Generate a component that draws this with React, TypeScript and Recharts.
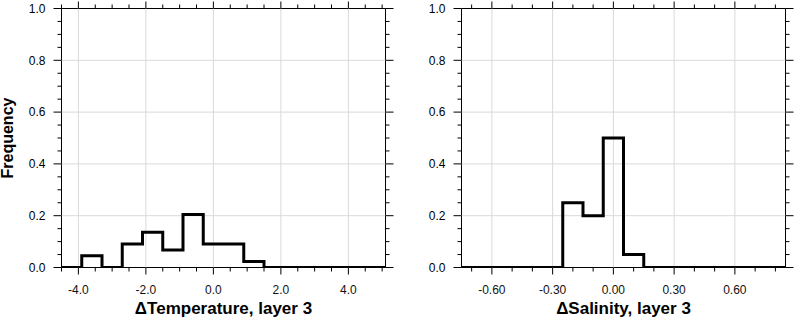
import React from "react";
import { LineChart, Line, XAxis, YAxis, ReferenceLine, ReferenceArea } from "recharts";

// ---------- data ----------
const tempBinEdges = [-4.5, -3.9, -3.3, -2.7, -2.1, -1.5, -0.9, -0.3, 0.3, 0.9, 1.5, 2.1, 2.7, 3.3, 3.9, 4.5, 5.1];
const tempFreq = [0, 0.045, 0, 0.091, 0.136, 0.068, 0.205, 0.091, 0.091, 0.023, 0, 0, 0, 0, 0, 0];

const salBinEdges = [-0.75, -0.65, -0.55, -0.45, -0.35, -0.25, -0.15, -0.05, 0.05, 0.15, 0.25, 0.35, 0.45, 0.55, 0.65, 0.75, 0.85];
const salFreq = [0, 0, 0, 0, 0, 0.25, 0.2, 0.5, 0.05, 0, 0, 0, 0, 0, 0, 0];

const tempMajorX = [-4, -2, 0, 2, 4];
const tempMajorXLabels = ["-4.0", "-2.0", "0.0", "2.0", "4.0"];
const tempAllX = [-4.5, -4, -3.5, -3, -2.5, -2, -1.5, -1, -0.5, 0, 0.5, 1, 1.5, 2, 2.5, 3, 3.5, 4, 4.5, 5];

const salMajorX = [-0.6, -0.3, 0, 0.3, 0.6];
const salMajorXLabels = ["-0.60", "-0.30", "0.00", "0.30", "0.60"];
const salAllX = [-0.7, -0.6, -0.5, -0.4, -0.3, -0.2, -0.1, 0, 0.1, 0.2, 0.3, 0.4, 0.5, 0.6, 0.7, 0.8];

const yMajor = [0, 0.2, 0.4, 0.6, 0.8, 1.0];
const yMajorLabels = ["0.0", "0.2", "0.4", "0.6", "0.8", "1.0"];
const yAll = [0, 0.05, 0.1, 0.15, 0.2, 0.25, 0.3, 0.35, 0.4, 0.45, 0.5, 0.55, 0.6, 0.65, 0.7, 0.75, 0.8, 0.85, 0.9, 0.95, 1.0];
const yGrid = [0.2, 0.4, 0.6, 0.8];

const tempTitle = "ΔTemperature, layer 3";
const salTitle = "ΔSalinity, layer 3";
const yTitle = "Frequency";

// ---------- layout ----------
const FONT = "'Liberation Sans', Arial, Helvetica, sans-serif";
const CH_W = 400;
const CH_H = 321;
const PLOT_LEFT = 61.5;
const PLOT_RIGHT = 385.5;
const PLOT_TOP = 8.5;
const PLOT_BOTTOM = 267.5;
const MAJOR_LEN = 7;
const MINOR_LEN = 4;
const GRID = "#d9d9d9";
const MARGIN = { top: PLOT_TOP, left: PLOT_LEFT - 40, right: CH_W - PLOT_RIGHT, bottom: CH_H - PLOT_BOTTOM - 30 };

function stepData(edges: number[], freq: number[]) {
  const pts = freq.map((f, i) => ({ x: edges[i], f }));
  pts.push({ x: edges[edges.length - 1], f: freq[freq.length - 1] });
  return pts;
}

const findIdx = (arr: number[], v: number) => arr.findIndex((m) => Math.abs(m - v) < 1e-6);

function makeXTick(majors: number[]) {
  return (props: any) => {
    const { x, payload } = props;
    const idx = findIdx(majors, payload.value);
    const len = idx >= 0 ? MAJOR_LEN : MINOR_LEN;
    return (
      <g>
        <line x1={x} x2={x} y1={PLOT_BOTTOM} y2={PLOT_BOTTOM + len} stroke="#000" strokeWidth={1} />
        <line x1={x} x2={x} y1={PLOT_TOP} y2={PLOT_TOP - len} stroke="#000" strokeWidth={1} />
      </g>
    );
  };
}

function makeXLabelTick(majors: number[], labels: string[]) {
  return (props: any) => {
    const { x, payload } = props;
    const idx = findIdx(majors, payload.value);
    if (idx < 0) return <g />;
    return (
      <g>
        <text x={x} y={294} textAnchor="middle" fontFamily={FONT} fontSize={12} fill="#111">
          {labels[idx]}
        </text>
      </g>
    );
  };
}

function makeYTick(majors: number[], labels: string[]) {
  return (props: any) => {
    const { y, payload } = props;
    const idx = findIdx(majors, payload.value);
    const len = idx >= 0 ? MAJOR_LEN + 1 : MINOR_LEN;
    return (
      <g>
        <line x1={PLOT_LEFT - len} x2={PLOT_LEFT} y1={y} y2={y} stroke="#000" strokeWidth={1} />
        <line x1={PLOT_RIGHT} x2={PLOT_RIGHT + len} y1={y} y2={y} stroke="#000" strokeWidth={1} />
        {idx >= 0 ? (
          <text x={PLOT_LEFT - 16} y={y + 4.3} textAnchor="end" fontFamily={FONT} fontSize={12} fill="#000">
            {labels[idx]}
          </text>
        ) : null}
      </g>
    );
  };
}

type PanelProps = {
  edges: number[];
  freq: number[];
  majorX: number[];
  majorXLabels: string[];
  allX: number[];
};

function Panel({ edges, freq, majorX, allX }: PanelProps) {
  const data = stepData(edges, freq);
  const x0 = edges[0];
  const x1 = edges[edges.length - 1];
  return (
    <LineChart width={CH_W} height={CH_H} data={data} margin={MARGIN}>
      <XAxis dataKey="x" type="number" domain={[x0, x1]} ticks={allX} interval={0} allowDataOverflow tick={makeXTick(majorX)} tickLine={false} axisLine={false} height={30} />
      <YAxis type="number" domain={[0, 1]} ticks={yAll} interval={0} allowDataOverflow tick={makeYTick(yMajor, yMajorLabels)} tickLine={false} axisLine={false} width={40} />
      {yGrid.map((v) => (
        <ReferenceLine key={"gy" + v} y={v} stroke={GRID} strokeWidth={1} />
      ))}
      {majorX.map((v) => (
        <ReferenceLine key={"gx" + v} x={v} stroke={GRID} strokeWidth={1} />
      ))}
      <ReferenceArea x1={x0} x2={x1} y1={0} y2={1} fill="none" fillOpacity={0} stroke="#000" strokeWidth={1} strokeOpacity={1} />
      <Line dataKey="f" type="stepAfter" stroke="#000" strokeWidth={3} dot={false} activeDot={false} isAnimationActive={false} strokeLinejoin="miter" strokeLinecap="butt" />
    </LineChart>
  );
}

// Overlay chart on the same scale that renders the x tick labels.
function LabelLayer({ edges, freq, majorX, majorXLabels, allX }: PanelProps) {
  const data = stepData(edges, freq);
  const x0 = edges[0];
  const x1 = edges[edges.length - 1];
  return (
    <LineChart width={CH_W} height={CH_H} data={data} margin={MARGIN}>
      <XAxis dataKey="x" type="number" domain={[x0, x1]} ticks={allX} interval={0} allowDataOverflow tick={makeXLabelTick(majorX, majorXLabels)} tickLine={false} axisLine={false} height={30} />
      <YAxis type="number" domain={[0, 1]} allowDataOverflow tick={false} tickLine={false} axisLine={false} width={40} />
    </LineChart>
  );
}

const titleStyle: React.CSSProperties = {
  position: "absolute",
  fontFamily: FONT,
  fontWeight: "bold",
  fontSize: 17,
  lineHeight: "20px",
  textAlign: "center",
  whiteSpace: "nowrap",
  color: "#000",
};

export default function App() {
  const temp = { edges: tempBinEdges, freq: tempFreq, majorX: tempMajorX, majorXLabels: tempMajorXLabels, allX: tempAllX };
  const sal = { edges: salBinEdges, freq: salFreq, majorX: salMajorX, majorXLabels: salMajorXLabels, allX: salAllX };
  return (
    <div style={{ position: "absolute", left: 0, top: 0, width: 794, height: 321, background: "#fff" }}>
      <div style={{ position: "absolute", left: 0, top: 0 }}>
        <Panel {...temp} />
      </div>
      <div style={{ position: "absolute", left: 400, top: 0 }}>
        <Panel {...sal} />
      </div>
      <div style={{ position: "absolute", left: 0, top: 0 }}>
        <LabelLayer {...temp} />
      </div>
      <div style={{ position: "absolute", left: 400, top: 0 }}>
        <LabelLayer {...sal} />
      </div>
      <div style={{ ...titleStyle, left: PLOT_LEFT, width: PLOT_RIGHT - PLOT_LEFT, top: 299 }}>{tempTitle}</div>
      <div style={{ ...titleStyle, left: 400 + PLOT_LEFT, width: PLOT_RIGHT - PLOT_LEFT, top: 299 }}>{salTitle}</div>
      <div style={{ ...titleStyle, fontSize: 16, left: -52, width: 120, top: (PLOT_TOP + PLOT_BOTTOM) / 2 - 10, transform: "rotate(-90deg)" }}>
        {yTitle}
      </div>
    </div>
  );
}
